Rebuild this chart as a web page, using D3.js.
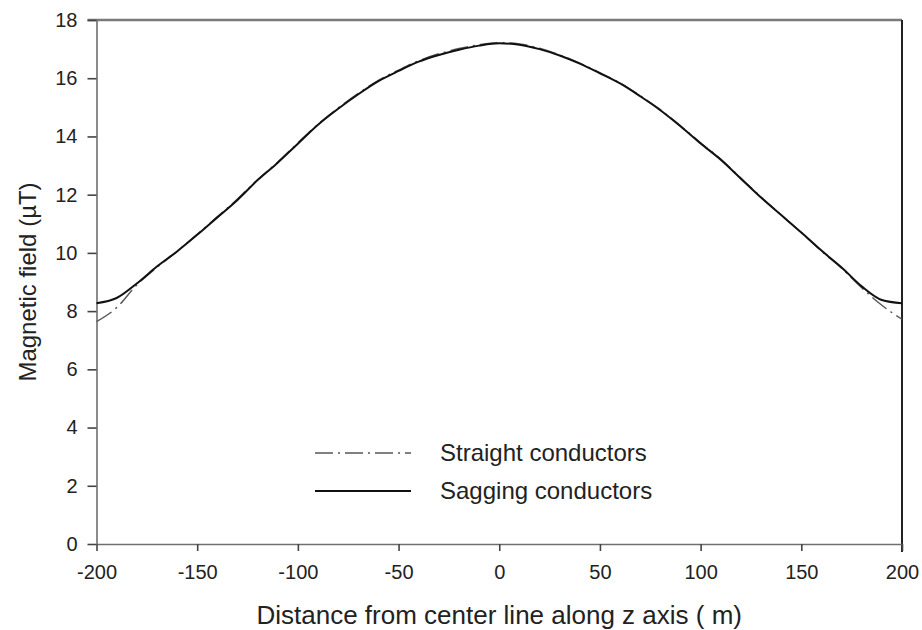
<!DOCTYPE html>
<html>
<head>
<meta charset="utf-8">
<script src="https://cdn.jsdelivr.net/npm/d3@7"></script>
<style>
  html, body { margin: 0; padding: 0; background: #fff; }
  svg { display: block; font-family: "Liberation Sans", Arial, sans-serif; }
</style>
</head>
<body>
<svg id="chart" width="922" height="630"></svg>
<script>
// Distance from the centre line (m)
const distance = [-200, -190, -180, -170, -160, -150, -140, -130, -120, -110, -100,
  -90, -80, -70, -60, -50, -40, -30, -20, -10, 0,
  10, 20, 30, 40, 50, 60, 70, 80, 90, 100,
  110, 120, 130, 140, 150, 160, 170, 180, 190, 200];

// Magnetic field (µT) for sagging conductors
const sagging = [8.27, 8.45, 8.95, 9.53, 10.05, 10.62, 11.22, 11.82, 12.5, 13.1, 13.75,
  14.4, 14.95, 15.45, 15.9, 16.25, 16.57, 16.8, 16.98, 17.12, 17.2,
  17.15, 17.0, 16.78, 16.5, 16.17, 15.82, 15.38, 14.9, 14.35, 13.76,
  13.2, 12.55, 11.9, 11.3, 10.7, 10.08, 9.5, 8.85, 8.38, 8.27];

// Magnetic field (µT) for straight conductors
const straight = [7.64, 8.12, 8.9, 9.5, 10.05, 10.64, 11.24, 11.85, 12.52, 13.12, 13.78,
  14.42, 14.98, 15.48, 15.93, 16.28, 16.6, 16.84, 17.02, 17.15, 17.22,
  17.18, 17.03, 16.8, 16.52, 16.19, 15.84, 15.4, 14.92, 14.37, 13.78,
  13.22, 12.57, 11.92, 11.3, 10.7, 10.06, 9.47, 8.8, 8.2, 7.72];

const xTicks = [-200, -150, -100, -50, 0, 50, 100, 150, 200];
const yTicks = [0, 2, 4, 6, 8, 10, 12, 14, 16, 18];

const legendLabels = ["Straight conductors", "Sagging conductors"];

const svg = d3.select("#chart");
const plotLeft = 96.5, plotRight = 902, plotTop = 20, plotBottom = 544;

const x = d3.scaleLinear().domain([-200, 200]).range([plotLeft, plotRight]);
const y = d3.scaleLinear().domain([0, 18]).range([plotBottom, plotTop]);

const axisColor = "#6f6f6f";

// Frame: top and right edges
svg.append("line")
  .attr("x1", plotLeft - 9).attr("x2", plotRight)
  .attr("y1", plotTop).attr("y2", plotTop)
  .attr("stroke", "#7a7a7a").attr("stroke-width", 2.4);
svg.append("line")
  .attr("x1", plotRight).attr("x2", plotRight)
  .attr("y1", plotTop).attr("y2", plotBottom + 8)
  .attr("stroke", "#222").attr("stroke-width", 2);

// Bottom axis
const xAxis = svg.append("g")
  .attr("transform", `translate(0,${plotBottom})`)
  .call(d3.axisBottom(x).tickValues(xTicks).tickSize(7).tickSizeOuter(0).tickPadding(14));
xAxis.select(".domain").attr("stroke", axisColor).attr("stroke-width", 1.6);
xAxis.selectAll(".tick line").attr("stroke", "#444").attr("stroke-width", 1.6);
xAxis.selectAll(".tick text")
  .attr("font-size", 20).attr("fill", "#222")
  .style("font-family", "'Liberation Sans', Arial, sans-serif")
  .text(d => d < 0 ? "-" + Math.abs(d) : d);

// Left axis
const yAxis = svg.append("g")
  .attr("transform", `translate(${plotLeft},0)`)
  .call(d3.axisLeft(y).tickValues(yTicks).tickSize(9).tickSizeOuter(0).tickPadding(10));
yAxis.select(".domain").attr("stroke", axisColor).attr("stroke-width", 1.6);
yAxis.selectAll(".tick line").attr("stroke", "#444").attr("stroke-width", 1.6);
yAxis.selectAll(".tick text")
  .attr("font-size", 20).attr("fill", "#222")
  .style("font-family", "'Liberation Sans', Arial, sans-serif");

// Axis titles
svg.append("text")
  .attr("x", (plotLeft + plotRight) / 2).attr("y", 624)
  .attr("text-anchor", "middle")
  .attr("font-size", 26).attr("fill", "#222")
  .text("Distance from center line along z axis ( m)");

svg.append("text")
  .attr("transform", `translate(36,${(plotTop + plotBottom) / 2}) rotate(-90)`)
  .attr("text-anchor", "middle")
  .attr("font-size", 24).attr("fill", "#222")
  .text("Magnetic field (\u00B5T)");

// Curves
const line = vals => d3.line()
  .x((d, i) => x(distance[i]))
  .y(d => y(d))
  .curve(d3.curveMonotoneX)(vals);

svg.append("path")
  .attr("d", line(straight))
  .attr("fill", "none")
  .attr("stroke", "#555")
  .attr("stroke-width", 1.4)
  .attr("stroke-dasharray", "18,5,2,5");

svg.append("path")
  .attr("d", line(sagging))
  .attr("fill", "none")
  .attr("stroke", "#111")
  .attr("stroke-width", 2);

// Legend
const legend = svg.append("g");
const legendRows = [
  { label: legendLabels[0], y: 453, dash: "18,5,2,5", color: "#555", w: 1.4 },
  { label: legendLabels[1], y: 491, dash: null, color: "#111", w: 2 }
];
legendRows.forEach(r => {
  legend.append("line")
    .attr("x1", 315).attr("x2", 411)
    .attr("y1", r.y).attr("y2", r.y)
    .attr("stroke", r.color).attr("stroke-width", r.w)
    .attr("stroke-dasharray", r.dash);
  legend.append("text")
    .attr("x", 440).attr("y", r.y + 8)
    .attr("font-size", 24).attr("fill", "#222")
    .text(r.label);
});
</script>
</body>
</html>
